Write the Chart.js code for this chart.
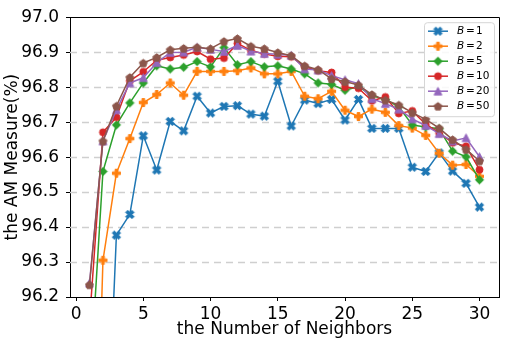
<!DOCTYPE html>
<html><head><meta charset="utf-8">
<script src="https://cdn.jsdelivr.net/npm/chart.js@4.4.1/dist/chart.umd.min.js"></script>
<style>html,body{margin:0;padding:0;background:#fff;}canvas{display:block;}</style>
</head><body>
<canvas id="c" width="506" height="346"></canvas>
<script>
// ---- data ----
const neighbors = [1,2,3,4,5,6,7,8,9,10,11,12,13,14,15,16,17,18,19,20,21,22,23,24,25,26,27,28,29,30];
const seriesB = ['1','2','5','10','20','50'];
const b1  = [94.60,95.47,96.377,96.436,96.661,96.563,96.702,96.675,96.774,96.726,96.745,96.747,96.723,96.717,96.817,96.689,96.763,96.753,96.765,96.706,96.765,96.682,96.682,96.682,96.571,96.559,96.612,96.560,96.525,96.457];
const b2  = [95.02,96.305,96.554,96.653,96.756,96.779,96.812,96.777,96.845,96.845,96.845,96.847,96.855,96.838,96.838,96.845,96.774,96.767,96.788,96.734,96.716,96.737,96.728,96.690,96.683,96.662,96.611,96.577,96.579,96.545];
const b5  = [95.93,96.559,96.692,96.755,96.812,96.861,96.852,96.857,96.873,96.858,96.913,96.864,96.873,96.858,96.861,96.852,96.838,96.812,96.808,96.791,96.802,96.775,96.765,96.744,96.692,96.686,96.681,96.617,96.601,96.535];
const b10 = [96.13,96.671,96.714,96.818,96.844,96.877,96.885,96.892,96.902,96.880,96.883,96.925,96.905,96.895,96.888,96.887,96.858,96.847,96.842,96.800,96.797,96.761,96.772,96.725,96.732,96.694,96.669,96.641,96.631,96.564];
const b20 = [96.24,96.646,96.735,96.812,96.827,96.870,96.899,96.900,96.914,96.908,96.902,96.919,96.903,96.896,96.894,96.891,96.852,96.849,96.833,96.821,96.810,96.767,96.753,96.737,96.709,96.690,96.667,96.646,96.655,96.601];
const b50 = [96.235,96.646,96.746,96.828,96.869,96.885,96.907,96.911,96.914,96.910,96.931,96.939,96.917,96.910,96.899,96.890,96.861,96.850,96.824,96.816,96.806,96.779,96.763,96.749,96.727,96.708,96.683,96.650,96.622,96.589];
const seriesValues = [b1,b2,b5,b10,b20,b50];
const xTickStep = 5;
const yMin = 96.2, yMax = 97.0, yTickStep = 0.1;

// ---- styles ----
const colors = ['#1f77b4','#ff7f0e','#2ca02c','#d62728','#9467bd','#8c564b'];
const markerKinds = ['X','P','D','o','^','p'];
const FONT = 'DejaVu Sans';

function makeMarker(kind, color){
  const S = 13, c = document.createElement('canvas');
  c.width = S; c.height = S;
  const g = c.getContext('2d');
  g.translate(S/2, S/2);
  g.fillStyle = color; g.strokeStyle = color; g.lineWidth = 1; g.lineJoin = 'round';
  g.beginPath();
  if (kind === 'o') { g.arc(0,0,3.5,0,Math.PI*2); }
  else if (kind === 'D') { const h=4.2; g.moveTo(0,-h); g.lineTo(h,0); g.lineTo(0,h); g.lineTo(-h,0); g.closePath(); }
  else if (kind === '^') { const h=3.9; g.moveTo(0,-h); g.lineTo(h,h*0.95); g.lineTo(-h,h*0.95); g.closePath(); }
  else if (kind === 'p') { const r=4.1; for(let i=0;i<5;i++){const a=-Math.PI/2+i*2*Math.PI/5; const px=r*Math.cos(a), py=r*Math.sin(a)+0.4; i?g.lineTo(px,py):g.moveTo(px,py);} g.closePath(); }
  else if (kind === 'P' || kind === 'X') {
    const L=4.0, w=1.35;
    const pts=[[-w,-L],[w,-L],[w,-w],[L,-w],[L,w],[w,w],[w,L],[-w,L],[-w,w],[-L,w],[-L,-w],[-w,-w]];
    const rot = kind==='X' ? Math.PI/4 : 0;
    const sc = kind==='X' ? 1.12 : 1;
    pts.forEach((p,i)=>{const x=(p[0]*Math.cos(rot)-p[1]*Math.sin(rot))*sc, y=(p[0]*Math.sin(rot)+p[1]*Math.cos(rot))*sc; i?g.lineTo(x,y):g.moveTo(x,y);});
    g.closePath();
  }
  g.fill(); g.stroke();
  return c;
}
const markers = markerKinds.map((k,i)=>makeMarker(k, colors[i]));

const datasets = seriesValues.map((vals, i) => ({
  label: 'B = ' + seriesB[i],
  data: neighbors.map((n, j) => ({x: n, y: vals[j]})),
  borderColor: colors[i],
  backgroundColor: colors[i],
  borderWidth: 1.5,
  pointStyle: markers[i],
  pointRadius: 4,
  pointHoverRadius: 4,
  tension: 0,
  order: seriesValues.length - i
}));

const gridPlugin = {
  id: 'mplGrid',
  beforeDatasetsDraw(chart){
    const {ctx, chartArea:a, scales:{y}} = chart;
    ctx.save();
    ctx.strokeStyle = '#cfcfcf'; ctx.lineWidth = 1.3; ctx.setLineDash([7,5]);
    y.ticks.forEach(t => {
      if (t.value <= yMin + 1e-9 || t.value >= yMax - 1e-9) return;
      const py = Math.round(y.getPixelForValue(t.value)) + 0.5;
      ctx.beginPath(); ctx.moveTo(a.left, py); ctx.lineTo(a.right, py); ctx.stroke();
    });
    ctx.restore();
  },
  afterDraw(chart){
    const {ctx, chartArea:a} = chart;
    ctx.save();
    ctx.strokeStyle = '#000'; ctx.lineWidth = 1; ctx.setLineDash([]);
    ctx.beginPath();
    ctx.moveTo(a.left, Math.round(a.top)+0.5); ctx.lineTo(Math.round(a.right)+0.5, Math.round(a.top)+0.5);
    ctx.lineTo(Math.round(a.right)+0.5, a.bottom);
    ctx.stroke();
    // legend
    const lx = a.right - 75, ly = a.top + 5, lw = 70, lh = 94;
    ctx.fillStyle = 'rgba(255,255,255,0.85)'; ctx.strokeStyle = '#d6d6d6';
    ctx.beginPath();
    if (ctx.roundRect) ctx.roundRect(lx+0.5, ly+0.5, lw, lh, 3); else ctx.rect(lx+0.5, ly+0.5, lw, lh);
    ctx.fill(); ctx.stroke();
    datasets.forEach((d, i) => {
      const cy = ly + 9 + i*15;
      ctx.strokeStyle = colors[i]; ctx.lineWidth = 1.5;
      ctx.beginPath(); ctx.moveTo(lx+4, cy); ctx.lineTo(lx+24, cy); ctx.stroke();
      const m = markers[i];
      ctx.drawImage(m, lx+14 - m.width/2, cy - m.height/2);
      ctx.fillStyle = '#000'; ctx.textBaseline = 'middle'; ctx.textAlign = 'left';
      ctx.font = 'italic 10.5px "' + FONT + '"';
      ctx.fillText('B', lx+33, cy);
      ctx.font = '10.5px "' + FONT + '"';
      ctx.fillText('=', lx+42, cy);
      ctx.fillText(seriesB[i], lx+52, cy);
    });
    ctx.restore();
  }
};

new Chart(document.getElementById('c'), {
  type: 'line',
  data: { datasets },
  options: {
    responsive: false, animation: false, devicePixelRatio: 1,
    layout: { padding: { top: 12, right: 7, left: 0, bottom: 0 } },
    plugins: { legend: { display: false }, tooltip: { enabled: false } },
    elements: { line: { borderJoinStyle: 'round' } },
    scales: {
      x: {
        type: 'linear', min: -0.45, max: 31.45,
        afterFit(s){ s.height = 49; },
        ticks: { stepSize: xTickStep, includeBounds: false, autoSkip: false, maxRotation: 0, color: '#000', padding: 3,
                 font: { family: FONT, size: 17 } },
        grid: { display: true, drawOnChartArea: false, drawTicks: true, tickLength: 4, tickColor: '#000', tickWidth: 1 },
        border: { display: true, color: '#000', width: 1 },
        title: { display: true, text: 'the Number of Neighbors', color: '#000', font: { family: FONT, size: 17 }, padding: { top: 0, bottom: 6 } }
      },
      y: {
        type: 'linear', min: yMin, max: yMax,
        afterFit(s){ s.width = 70; },
        ticks: { stepSize: yTickStep, includeBounds: false, autoSkip: false, color: '#000', padding: 7,
                 font: { family: FONT, size: 17 }, callback: v => Number(v).toFixed(1) },
        grid: { display: true, drawOnChartArea: false, drawTicks: true, tickLength: 4, tickColor: '#000', tickWidth: 1 },
        border: { display: true, color: '#000', width: 1 },
        title: { display: true, text: 'the AM Measure(%)', color: '#000', font: { family: FONT, size: 17 }, padding: { top: 2, bottom: 0 } }
      }
    }
  },
  plugins: [gridPlugin]
});
</script>
</body></html>
